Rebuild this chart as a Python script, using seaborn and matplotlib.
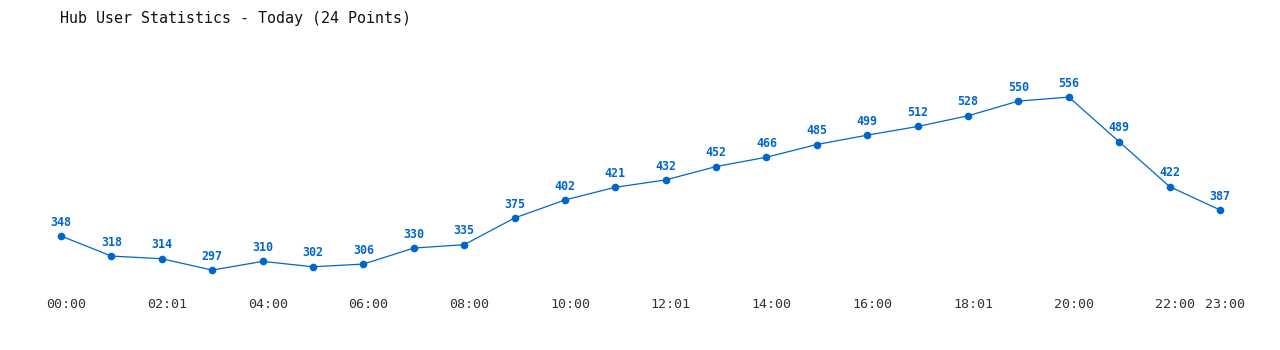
import matplotlib
matplotlib.use("Agg")
import matplotlib.pyplot as plt
import seaborn as sns
import pandas as pd

title = "Hub User Statistics - Today (24 Points)"
times = ["00:00", "01:00", "02:01", "03:00", "04:00", "05:00", "06:00", "07:00",
         "08:00", "09:00", "10:00", "11:00", "12:01", "13:00", "14:00", "15:00",
         "16:00", "17:00", "18:01", "19:00", "20:00", "21:00", "22:00", "23:00"]
users = [348, 318, 314, 297, 310, 302, 306, 330, 335, 375, 402, 421,
         432, 452, 466, 485, 499, 512, 528, 550, 556, 489, 422, 387]
tick_idx = [0, 2, 4, 6, 8, 10, 12, 14, 16, 18, 20, 22, 23]

color = "#0066CC"
mono = "DejaVu Sans Mono"

sns.set_theme(style="white")
plt.rcParams['font.family'] = [mono]

df = pd.DataFrame({"idx": range(len(users)), "users": users})

fig = plt.figure(figsize=(12.8, 3.5), dpi=100)
ax = fig.add_axes([0.028, 0.1577, 0.9448, 0.6489])
sns.lineplot(data=df, x="idx", y="users", ax=ax, color=color, linewidth=0.9,
             marker="o", markersize=5.5, markeredgewidth=0, markerfacecolor=color)
ax.set_xlim(-0.5, len(users) - 0.5)
ax.set_ylim(260, 600)
for i, v in enumerate(users):
    ax.annotate(str(v), (i, v), xytext=(0, 10), textcoords="offset points",
                ha="center", va="center", fontsize=8.4, fontweight="bold",
                color=color, family=mono)
# labels sit slightly right of their points in the reference
ax.set_xticks([i + 0.1 for i in tick_idx])
ax.set_xticklabels([times[i] for i in tick_idx], fontsize=9.6, color="#333333", family=mono)
ax.set_yticks([])
ax.tick_params(axis="x", length=0, pad=2)
ax.set_xlabel("")
ax.set_ylabel("")
for s in ax.spines.values():
    s.set_visible(False)
fig.text(60 / 1280, 1 - 18 / 350, title, ha="left", va="center",
         fontsize=10.8, color="#111111", family=mono)
fig.savefig("out.png", dpi=100, facecolor="white")
